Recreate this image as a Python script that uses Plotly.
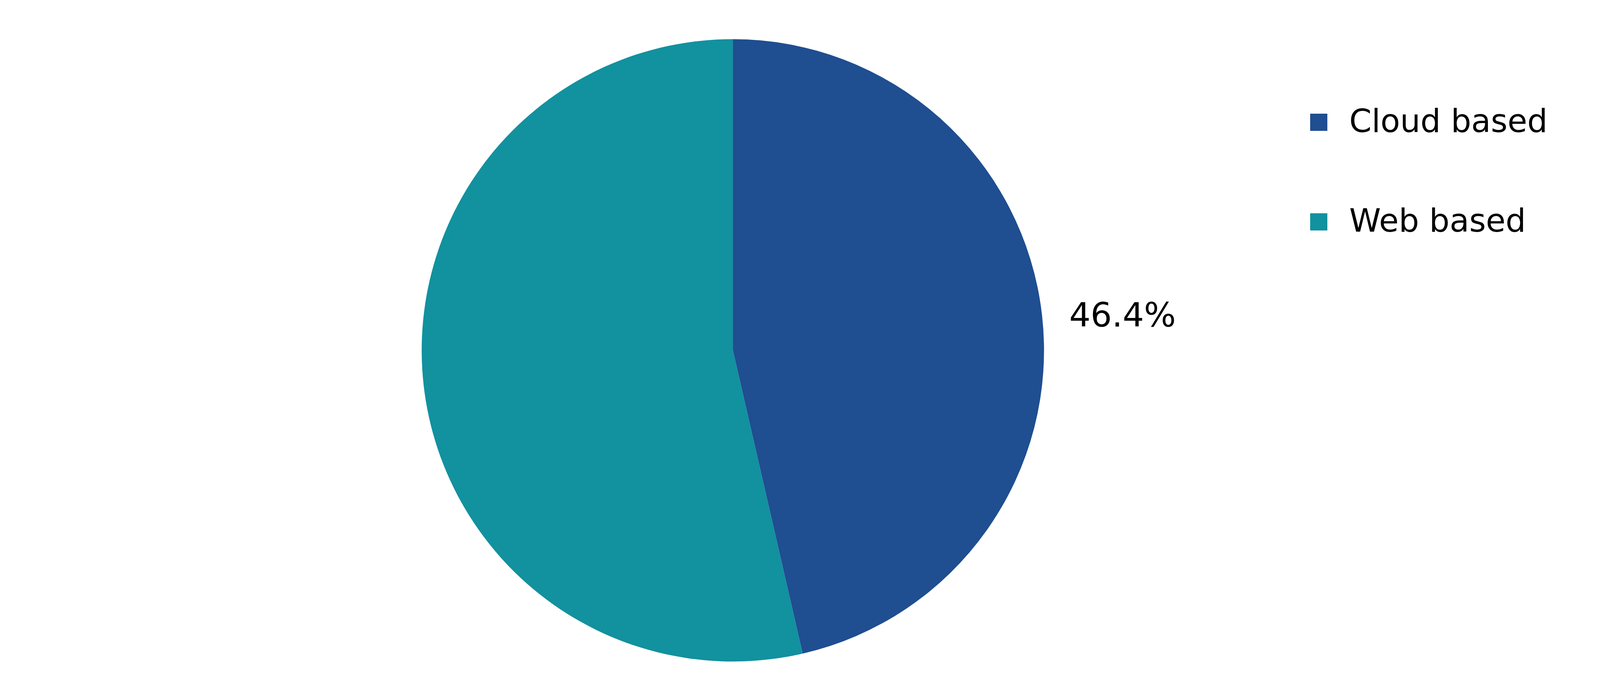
import plotly.graph_objects as go

# share of deployments by type
labels = ["Cloud based", "Web based"]
values = [46.4, 53.6]
slice_text = ["\u00a0\u200946.4%", ""]   # only the cloud slice is labelled
colors = ["#1F4E91", "#12919F"]

W, H = 4931, 1792

fig = go.Figure(
    go.Pie(
        labels=labels,
        values=values,
        text=slice_text,
        textinfo="text",
        textposition="outside",
        sort=False,
        direction="clockwise",
        rotation=0,
        marker=dict(colors=colors, line=dict(width=0)),
        textfont=dict(family="DejaVu Sans", size=86, color="#000000"),
        domain=dict(x=[0.2173, 0.5404], y=[0.059, 0.949]),
        hoverinfo="label+percent",
        showlegend=False,
    )
)

# legend drawn by hand so the swatches can be as big as in the original
leg_x, leg_top, step, box = 3346, 283, 255, 44
for i, (lab, col) in enumerate(zip(labels, colors)):
    top = leg_top + i * step
    fig.add_shape(
        type="rect", xref="paper", yref="paper",
        x0=leg_x / W, x1=(leg_x + box) / W,
        y0=1 - (top + box) / H, y1=1 - top / H,
        fillcolor=col, line=dict(width=0),
    )
    fig.add_annotation(
        text=lab, xref="paper", yref="paper",
        x=3444 / W, y=1 - (top + 18) / H,
        xanchor="left", yanchor="middle", showarrow=False,
        font=dict(family="DejaVu Sans", size=82, color="#000000"),
    )

fig.update_layout(
    width=W,
    height=H,
    margin=dict(l=0, r=0, t=0, b=0),
    paper_bgcolor="white",
    plot_bgcolor="white",
)

fig.write_html("out.html")
